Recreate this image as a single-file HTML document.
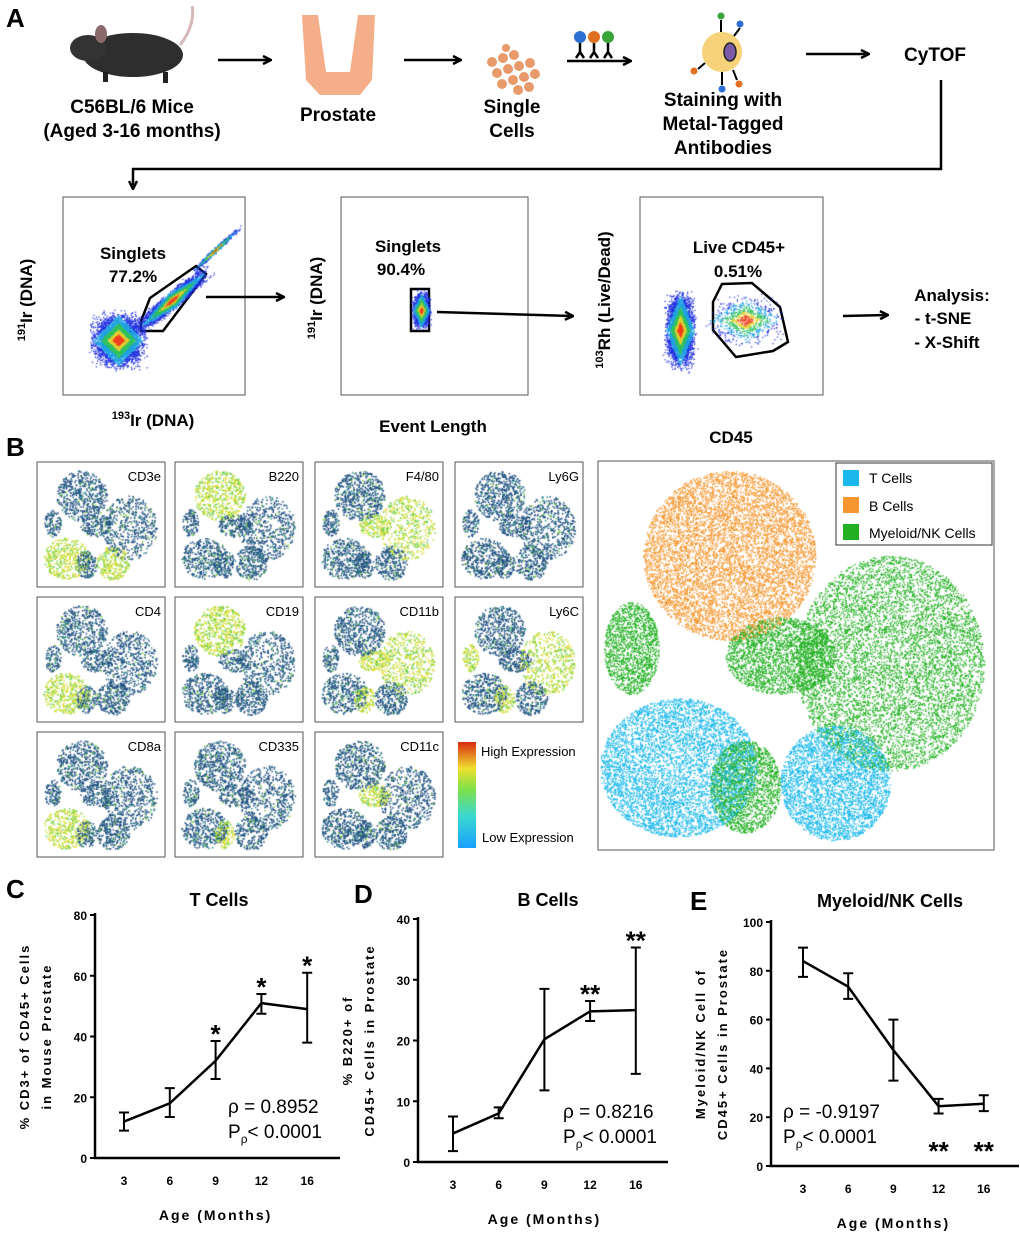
<!DOCTYPE html>
<html><head><meta charset="utf-8">
<style>
html,body{margin:0;padding:0;background:#fff;}
#root{position:relative;width:1020px;height:1235px;overflow:hidden;font-family:"Liberation Sans",sans-serif;}
svg text{font-family:"Liberation Sans",sans-serif;}
canvas{position:absolute;}
</style></head>
<body>
<div id="root">
<svg id="main" width="1020" height="1235" style="position:absolute;left:0;top:0">
<defs><marker id="ah" markerWidth="10" markerHeight="10" refX="8" refY="5" orient="auto" markerUnits="userSpaceOnUse"><path d="M1,1 L9,5 L1,9" fill="none" stroke="#000" stroke-width="2.5"/></marker></defs>
<g font-weight="bold" fill="#000">
<text x="6" y="27" font-size="26">A</text>
<g>
<ellipse cx="133" cy="55" rx="50" ry="22" fill="#2e2e2e"/>
<ellipse cx="88" cy="48" rx="18" ry="13" fill="#333"/>
<ellipse cx="101" cy="34" rx="6" ry="9" fill="#8a6a6a"/>
<path d="M180,45 C192,30 194,15 192,6" stroke="#d8b8b8" stroke-width="3" fill="none"/>
<rect x="103" y="72" width="5" height="10" fill="#222"/><rect x="163" y="72" width="5" height="11" fill="#222"/>
</g>
<g>
<path d="M302,15 L318,15 L326,72 L350,72 L358,15 L375,15 L372,80 L360,95 L320,95 L306,80 Z" fill="#f3a57c" opacity="0.9"/>
</g>
<g fill="#e99a6a">
<circle cx="492" cy="62" r="5"/><circle cx="503" cy="58" r="5"/><circle cx="514" cy="55" r="5"/><circle cx="497" cy="73" r="5"/><circle cx="508" cy="69" r="5"/><circle cx="519" cy="66" r="5"/><circle cx="530" cy="63" r="5"/><circle cx="502" cy="84" r="5"/><circle cx="513" cy="80" r="5"/><circle cx="524" cy="77" r="5"/><circle cx="535" cy="74" r="5"/><circle cx="518" cy="90" r="5"/><circle cx="529" cy="87" r="5"/><circle cx="506" cy="48" r="4"/>
</g>
<g>
<circle cx="580" cy="37" r="6" fill="#2a6fd1"/><circle cx="594" cy="37" r="6" fill="#e07020"/><circle cx="608" cy="37" r="6" fill="#3aa33a"/>
<path d="M580,43V52M576,58L580,52L584,58M594,43V52M590,58L594,52L598,58M608,43V52M604,58L608,52L612,58" stroke="#000" stroke-width="2.5" fill="none"/>
</g>
<g>
<circle cx="722" cy="52" r="20" fill="#f7d27a"/>
<ellipse cx="730" cy="52" rx="6" ry="9" fill="#7b5aa6" stroke="#222" stroke-width="1.5"/>
<circle cx="721" cy="16" r="3.5" fill="#3aa33a"/><circle cx="740" cy="24" r="3.5" fill="#2a6fd1"/><circle cx="694" cy="71" r="3.5" fill="#e07020"/><circle cx="722" cy="89" r="3.5" fill="#2a6fd1"/><circle cx="739" cy="84" r="3.5" fill="#e07020"/>
<path d="M721,20V32M740,28L734,36M698,69L705,63M722,85V72M737,80L733,70" stroke="#000" stroke-width="2"/>
</g>
<line x1="218" y1="60" x2="270" y2="60" stroke="#000" stroke-width="2.5" marker-end="url(#ah)"/>
<line x1="404" y1="60" x2="460" y2="60" stroke="#000" stroke-width="2.5" marker-end="url(#ah)"/>
<line x1="567" y1="61" x2="630" y2="61" stroke="#000" stroke-width="2.5" marker-end="url(#ah)"/>
<line x1="806" y1="54" x2="868" y2="54" stroke="#000" stroke-width="2.5" marker-end="url(#ah)"/>
<polyline points="941,80 941,169 133,169 133,188" fill="none" stroke="#000" stroke-width="2.5" marker-end="url(#ah)"/>
<g font-size="19" text-anchor="middle">
<text x="132" y="113">C56BL/6 Mice</text>
<text x="132" y="137">(Aged 3-16 months)</text>
<text x="338" y="121">Prostate</text>
<text x="512" y="113">Single</text>
<text x="512" y="137">Cells</text>
<text x="723" y="106">Staining with</text>
<text x="723" y="130">Metal-Tagged</text>
<text x="723" y="154">Antibodies</text>
<text x="935" y="61">CyTOF</text>
</g>
</g>
<g fill="#000" font-weight="bold">
<rect x="63" y="197" width="182" height="198" fill="none" stroke="#555"/>
<rect x="341" y="197" width="187" height="198" fill="none" stroke="#555"/>
<rect x="640" y="197" width="183" height="198" fill="none" stroke="#555"/>
<polygon points="141,331 163,331 206,274 196,266 150,298 141,321" fill="none" stroke="#000" stroke-width="2.5"/>
<rect x="411" y="289" width="18" height="42" fill="none" stroke="#000" stroke-width="2.5"/>
<polygon points="722,284 752,283 780,307 788,342 773,351 736,357 713,330 713,302" fill="none" stroke="#000" stroke-width="2.5"/>
<line x1="206" y1="297" x2="283" y2="297" stroke="#000" stroke-width="2.5" marker-end="url(#ah)"/>
<line x1="437" y1="312" x2="572" y2="316" stroke="#000" stroke-width="2.5" marker-end="url(#ah)"/>
<line x1="843" y1="316" x2="887" y2="315" stroke="#000" stroke-width="2.5" marker-end="url(#ah)"/>
<g font-size="17" text-anchor="middle">
<text x="133" y="259">Singlets</text>
<text x="133" y="282">77.2%</text>
<text x="408" y="252">Singlets</text>
<text x="401" y="275">90.4%</text>
<text x="739" y="253">Live CD45+</text>
<text x="738" y="277">0.51%</text>
<text x="153" y="426"><tspan font-size="11" dy="-7">193</tspan><tspan dy="7">Ir (DNA)</tspan></text>
<text x="433" y="432">Event Length</text>
<text x="731" y="443">CD45</text>
<text transform="translate(32,300) rotate(-90)" text-anchor="middle"><tspan font-size="11" dy="-7">191</tspan><tspan dy="7">Ir (DNA)</tspan></text>
<text transform="translate(322,298) rotate(-90)"><tspan font-size="11" dy="-7">191</tspan><tspan dy="7">Ir (DNA)</tspan></text>
<text transform="translate(610,300) rotate(-90)"><tspan font-size="11" dy="-7">103</tspan><tspan dy="7">Rh (Live/Dead)</tspan></text>
<text x="952" y="301">Analysis:</text>
<text x="943" y="324">- t-SNE</text>
<text x="947" y="348">- X-Shift</text>
</g>
</g>
<g>
<text x="6" y="456" font-size="26" font-weight="bold">B</text>
<g id="tiles"></g>
<defs><linearGradient id="cb" x1="0" y1="1" x2="0" y2="0"><stop offset="0" stop-color="#1aa0ff"/><stop offset="0.3" stop-color="#3ad8d0"/><stop offset="0.55" stop-color="#7ce04a"/><stop offset="0.75" stop-color="#f0e030"/><stop offset="1" stop-color="#d82a10"/></linearGradient></defs>
<rect x="458" y="742" width="18" height="106" fill="url(#cb)"/>
<text x="481" y="756" font-size="13">High Expression</text>
<text x="482" y="842" font-size="13">Low Expression</text>
<rect x="598" y="461" width="396" height="389" fill="none" stroke="#555"/>
<g id="legendg" font-size="14">
<rect x="836" y="463" width="156" height="82" fill="#fff" stroke="#333"/>
<rect x="843" y="470" width="16" height="16" fill="#1ab8ec"/>
<text x="869" y="483">T Cells</text>
<rect x="843" y="497" width="16" height="16" fill="#f5962e"/>
<text x="869" y="511">B Cells</text>
<rect x="843" y="524" width="16" height="16" fill="#22b022"/>
<text x="869" y="538">Myeloid/NK Cells</text>
</g>
</g>
<g id="charts"></g>
</svg>
<canvas id="cv" width="1020" height="870" style="left:0;top:0;pointer-events:none"></canvas>
<svg width="160" height="86" style="position:absolute;left:834px;top:461px">
<rect x="2" y="2" width="156" height="82" fill="#fff" stroke="#333"/>
<rect x="9" y="9" width="16" height="16" fill="#1ab8ec"/>
<text x="35" y="22" font-size="14" font-family="Liberation Sans">T Cells</text>
<rect x="9" y="36" width="16" height="16" fill="#f5962e"/>
<text x="35" y="50" font-size="14" font-family="Liberation Sans">B Cells</text>
<rect x="9" y="63" width="16" height="16" fill="#22b022"/>
<text x="35" y="77" font-size="14" font-family="Liberation Sans">Myeloid/NK Cells</text>
</svg>
</div>
<script>
const ages = ["3","6","9","12","16"];
const tMean = [12, 18, 32, 51, 49];
const tLow = [9, 13.5, 26, 47.5, 38];
const tHigh = [15, 23, 38.5, 54, 61];
const tStars = ["", "", "*", "*", "*"];
const tTicks = [0, 20, 40, 60, 80];
const bMean = [4.7, 8, 20.2, 24.8, 25];
const bLow = [1.8, 7.2, 11.8, 23.2, 14.5];
const bHigh = [7.5, 9, 28.5, 26.5, 35.3];
const bStars = ["", "", "", "**", "**"];
const bTicks = [0, 10, 20, 30, 40];
const mMean = [84, 73.5, 47.5, 24.5, 25.5];
const mLow = [77.5, 68.5, 35, 21.5, 22.5];
const mHigh = [89.5, 79, 60, 27.5, 29];
const mStars = ["", "", "", "**", "**"];
const mTicks = [0, 20, 40, 60, 80, 100];
const markers = ["CD3e","B220","F4/80","Ly6G","CD4","CD19","CD11b","Ly6C","CD8a","CD335","CD11c"];

const NS="http://www.w3.org/2000/svg";
function mk(tag, attrs, parent, txt){const e=document.createElementNS(NS,tag);for(const k in attrs)e.setAttribute(k,attrs[k]);if(txt!==undefined)e.textContent=txt;parent.appendChild(e);return e;}
const charts=document.getElementById('charts');

function drawChart(cfg){
  const g=mk('g',{},charts);
  
  
  const ymax=cfg.ticks[cfg.ticks.length-1];
  const y=v=>cfg.y0-(v/ymax)*(cfg.y0-cfg.y1);
  const x=i=>cfg.x0+cfg.off+cfg.dx*i;
  const lab=mk('text',{x:cfg.px,y:cfg.py,'font-size':26,'font-weight':'bold'},g,cfg.letter);
  
  
  const ttl=mk('text',{x:cfg.tx,y:cfg.ty,'font-size':18,'font-weight':'bold','text-anchor':'middle'},g,cfg.title);
  
  
  const ax=mk('path',{d:`M${cfg.x0},${cfg.y1-2}V${cfg.y0}H${cfg.x0+cfg.len}`,stroke:'#000','stroke-width':2.5,fill:'none'},g);
  
  
  cfg.ticks.forEach(t=>{
    mk('line',{x1:cfg.x0-5,x2:cfg.x0,y1:y(t),y2:y(t),stroke:'#000','stroke-width':2},g);
    const tl=mk('text',{x:cfg.x0-8,y:y(t)+5,'font-size':12,'font-weight':'bold','text-anchor':'end'},g,String(t));
    
    
  });
  ages.forEach((a,i)=>{
    const tl=mk('text',{x:x(i),y:cfg.y0+27,'font-size':12,'font-weight':'bold','text-anchor':'middle'},g,a);
    
    
  });
  const xt=mk('text',{x:x(2),y:cfg.y0+62,'font-size':14,'font-weight':'bold','text-anchor':'middle','letter-spacing':'2'},g,'Age (Months)');
  
  
  const yt=mk('text',{transform:`translate(${cfg.x0-62},${(cfg.y0+cfg.y1)/2}) rotate(-90)`,'font-size':13,'font-weight':'bold','text-anchor':'middle','letter-spacing':'2'},g);
  
  
  mk('tspan',{x:0,dy:-4},yt,cfg.yl1); mk('tspan',{x:0,dy:22},yt,cfg.yl2);
  let d='';
  cfg.mean.forEach((v,i)=>{d+=(i?'L':'M')+x(i)+','+y(v);});
  const ln=mk('path',{d:d,stroke:'#000','stroke-width':2.5,fill:'none'},g);
  
  
  cfg.mean.forEach((v,i)=>{
    const eb=mk('path',{d:`M${x(i)},${y(cfg.lo[i])}V${y(cfg.hi[i])}M${x(i)-5},${y(cfg.lo[i])}H${x(i)+5}M${x(i)-5},${y(cfg.hi[i])}H${x(i)+5}`,stroke:'#000','stroke-width':2,fill:'none'},g);
    
    
    if(cfg.stars[i]){
      const sy=cfg.starsBelow? cfg.y0-20 : y(cfg.hi[i])-12;
      const st=mk('text',{x:x(i),y:sy+14,'font-size':26,'font-weight':'bold','text-anchor':'middle'},g,cfg.stars[i]);
      
      
    }
  });
  const r1=mk('text',{x:cfg.rx,y:cfg.ry,'font-size':19},g,'ρ = '+cfg.rho);
  
  
  const r2=mk('text',{x:cfg.rx,y:cfg.ry+25,'font-size':19},g);
  
  
  mk('tspan',{},r2,'P'); mk('tspan',{'font-size':12,dy:5},r2,'ρ'); mk('tspan',{dy:-5},r2,'< 0.0001');
}
drawChart({name:'chart-t-cells',letter:'C',px:6,py:898,title:'T Cells',tx:219,ty:906,x0:95,off:29,dx:45.8,len:245,y0:1158,y1:915,ticks:tTicks,mean:tMean,lo:tLow,hi:tHigh,stars:tStars,yl1:'% CD3+ of CD45+ Cells',yl2:'in Mouse Prostate',rx:228,ry:1113,rho:'0.8952'});
drawChart({name:'chart-b-cells',letter:'D',px:354,py:903,title:'B Cells',tx:548,ty:906,x0:418,off:35,dx:45.7,len:250,y0:1162,y1:919,ticks:bTicks,mean:bMean,lo:bLow,hi:bHigh,stars:bStars,yl1:'% B220+ of',yl2:'CD45+ Cells in Prostate',rx:563,ry:1118,rho:'0.8216'});
drawChart({name:'chart-myeloid-nk',letter:'E',px:690,py:910,title:'Myeloid/NK Cells',tx:890,ty:907,x0:771,off:32,dx:45.2,len:248,y0:1166,y1:922,ticks:mTicks,mean:mMean,lo:mLow,hi:mHigh,stars:mStars,starsBelow:true,yl1:'Myeloid/NK Cell of',yl2:'CD45+ Cells in Prostate',rx:783,ry:1118,rho:'-0.9197'});

let seed=7;function rnd(){seed=(seed*16807)%2147483647;return seed/2147483647;}
function gauss(){return (rnd()+rnd()+rnd()-1.5)/1.5;}
const ctx=document.getElementById('cv').getContext('2d');
const clusters=[[0.33,0.24,0.22,0.22,1,3],[0.74,0.52,0.24,0.28,2,3],[0.46,0.5,0.14,0.1,2,1],[0.08,0.48,0.07,0.12,2,0.6],[0.2,0.79,0.2,0.18,0,2.2],[0.37,0.84,0.09,0.12,2,0.8],[0.6,0.83,0.14,0.15,0,1.5]];
const wsum=clusters.reduce((s,c)=>s+c[5],0);
function pick(){let r=rnd()*wsum;for(const c of clusters){r-=c[5];if(r<=0)return c;}return clusters[0];}
function inClusterPts(n,cb){for(let i=0;i<n;i++){const c=pick();const a=rnd()*6.283,r=Math.sqrt(rnd());cb(c[0]+Math.cos(a)*r*c[2],c[1]+Math.sin(a)*r*c[3],c,clusters.indexOf(c));}}
const tileX=[37,175,315,455],tileY=[462,597,732];
const hi={0:[4,6],1:[0],2:[1,2],3:[],4:[4],5:[0],6:[1,2,5],7:[1,3,5],8:[4],9:[5],10:[2]};
const tg=document.getElementById('tiles');
markers.forEach((m,k)=>{
  const tx=tileX[k%4],ty=tileY[Math.floor(k/4)];
  const fr=mk('rect',{x:tx,y:ty,width:128,height:125,fill:'none',stroke:'#555'},tg);
  
  
  const lb=mk('text',{x:tx+124,y:ty+19,'font-size':13,'text-anchor':'end'},tg,m);
  
  
  inClusterPts(2200,(u,v,c,ci)=>{
    const h=hi[k].includes(ci);const r=rnd();
    ctx.fillStyle=h?(r<0.5?'#c8e03a':(r<0.8?'#6ccf4a':'#e8d83a')):(r<0.8?'#1f4f80':(r<0.93?'#2f8a8a':'#7cc84a'));
    ctx.fillRect(tx+6+u*116,ty+6+v*114,1.5,1.5);
  });
});
inClusterPts(30000,(u,v,c)=>{
  ctx.fillStyle=c[4]===0?'#1ab8ec':(c[4]===1?'#f5962e':'#22b022');
  ctx.fillRect(600+u*392,463+v*385,1.3,1.3);
});
function flowBlob(cx,cy,sx,sy,rot,n){for(let i=0;i<n;i++){const a=gauss(),b=gauss();const px=cx+a*sx*Math.cos(rot)-b*sy*Math.sin(rot),py=cy+a*sx*Math.sin(rot)+b*sy*Math.cos(rot);const d=Math.abs(a)+Math.abs(b);ctx.fillStyle=d<0.2?'#f04020':d<0.35?'#e0d030':d<0.55?'#30c060':d<0.8?'#20a0e0':'#2030e0';ctx.fillRect(px,py,1.2,1.2);}}
flowBlob(118,340,32,32,0,5000);flowBlob(172,300,55,10,-0.7,3500);flowBlob(215,250,40,3,-0.75,600);
flowBlob(421,310,11,22,0,1800);
flowBlob(680,330,18,45,0,4500);flowBlob(745,320,45,28,0,900);
</script>
</body></html>
